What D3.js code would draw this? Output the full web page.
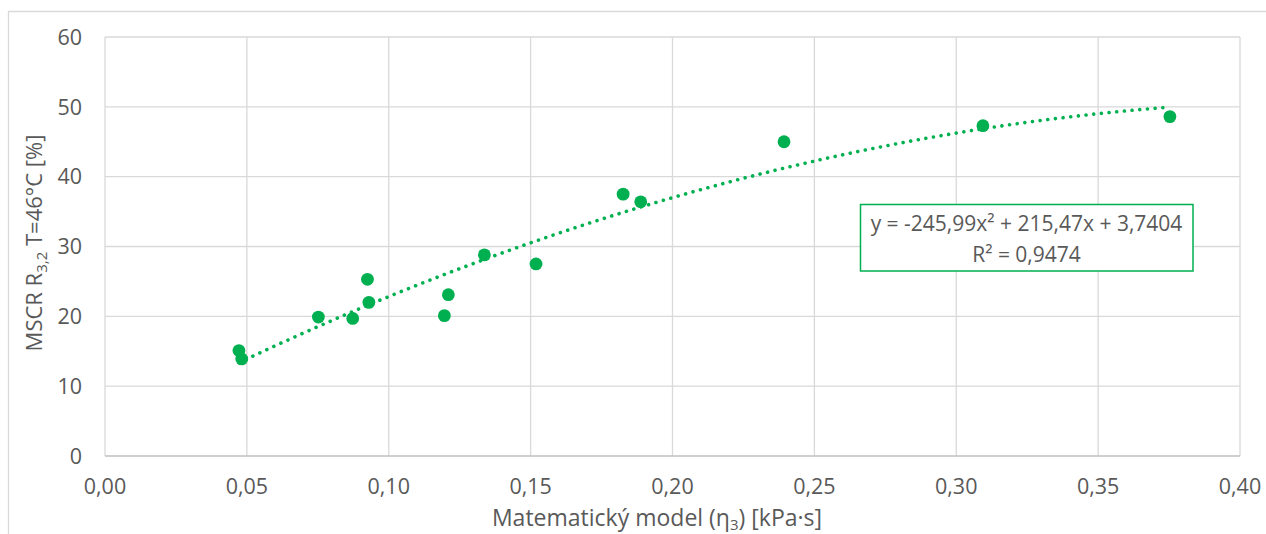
<!DOCTYPE html>
<html>
<head>
<meta charset="utf-8">
<script src="https://cdn.jsdelivr.net/npm/d3@7"></script>
<style>
  html, body { margin: 0; padding: 0; background: #fff; }
  svg { display: block; }
  text { font-family: "Open Sans", sans-serif; fill: #595959; }
</style>
</head>
<body>
<svg id="chart" width="1266" height="534"></svg>
<script>
// ---- data ----
const xValues = [0.0472, 0.0482, 0.0752, 0.0873, 0.0925, 0.0930, 0.1196, 0.1210, 0.1337, 0.1519, 0.1826, 0.1888, 0.2393, 0.3094, 0.3753];
const yValues = [15.1, 13.9, 19.9, 19.7, 25.3, 22.0, 20.1, 23.1, 28.8, 27.5, 37.5, 36.4, 45.0, 47.3, 48.6];
const xTicks = [0, 0.05, 0.10, 0.15, 0.20, 0.25, 0.30, 0.35, 0.40];
const yTicks = [0, 10, 20, 30, 40, 50, 60];
const trendCoef = [-245.99, 215.47, 3.7404]; // a, b, c of y = a x^2 + b x + c
const equationLines = ["y = -245,99x² + 215,47x + 3,7404", "R² = 0,9474"];

const green = "#00B050";
const svg = d3.select("#chart");

const margin = { left: 105, right: 1240, top: 37, bottom: 456 };
const x = d3.scaleLinear().domain([0, 0.4]).range([margin.left, margin.right]);
const y = d3.scaleLinear().domain([0, 60]).range([margin.bottom, margin.top]);
const fmt = v => d3.format(".2f")(v).replace(".", ",");

// outer chart border (left and top visible)
svg.append("path")
  .attr("d", `M8.5,534 L8.5,11.5 L1266,11.5`)
  .attr("fill", "none").attr("stroke", "#d9d9d9").attr("stroke-width", 1.3);

// gridlines
svg.append("g").selectAll("line").data(yTicks.filter(d => d !== 0)).join("line")
  .attr("x1", margin.left).attr("x2", margin.right)
  .attr("y1", d => y(d)).attr("y2", d => y(d))
  .attr("stroke", "#d9d9d9").attr("stroke-width", 1.3);
svg.append("g").selectAll("line").data(xTicks).join("line")
  .attr("x1", d => x(d)).attr("x2", d => x(d))
  .attr("y1", margin.top).attr("y2", margin.bottom)
  .attr("stroke", "#d9d9d9").attr("stroke-width", 1.3);

// x axis line
svg.append("line")
  .attr("x1", margin.left).attr("x2", margin.right)
  .attr("y1", y(0)).attr("y2", y(0))
  .attr("stroke", "#bfbfbf").attr("stroke-width", 1.3);

// x tick labels
svg.append("g").selectAll("text").data(xTicks).join("text")
  .attr("x", d => x(d)).attr("y", 494)
  .attr("text-anchor", "middle").attr("font-size", 21.5)
  .text(fmt);

// y tick labels
svg.append("g").selectAll("text").data(yTicks).join("text")
  .attr("x", 82).attr("y", d => y(d)).attr("dy", "0.36em")
  .attr("text-anchor", "end").attr("font-size", 21.5)
  .text(d => d);

// trendline
const xmin = d3.min(xValues), xmax = d3.max(xValues);
const trendPts = d3.range(0, 201).map(i => {
  const xv = xmin + (xmax - xmin) * i / 200;
  return [xv, trendCoef[0] * xv * xv + trendCoef[1] * xv + trendCoef[2]];
});

// points
svg.append("g").selectAll("circle").data(xValues.map((d, i) => [d, yValues[i]])).join("circle")
  .attr("cx", d => x(d[0])).attr("cy", d => y(d[1])).attr("r", 6.4)
  .attr("fill", green);

svg.append("path")
  .datum(trendPts)
  .attr("d", d3.line().x(d => x(d[0])).y(d => y(d[1])))
  .attr("fill", "none").attr("stroke", green)
  .attr("stroke-width", 3.6).attr("stroke-linecap", "round")
  .attr("stroke-dasharray", "0.01 7.7");

// equation box
svg.append("rect")
  .attr("x", 860.5).attr("y", 204.5).attr("width", 332.5).attr("height", 66.5)
  .attr("fill", "#fff").attr("stroke", green).attr("stroke-width", 1.5);
svg.append("text").attr("x", 1026.5).attr("y", 231).attr("text-anchor", "middle")
  .attr("font-size", 21).text(equationLines[0]);
svg.append("text").attr("x", 1026.5).attr("y", 261.5).attr("text-anchor", "middle")
  .attr("font-size", 21).text(equationLines[1]);

// x axis title
const xt = svg.append("text").attr("x", 657).attr("y", 526)
  .attr("text-anchor", "middle").attr("font-size", 23);
xt.append("tspan").text("Matematický model (η");
xt.append("tspan").attr("font-size", 15).attr("dy", 4).text("3");
xt.append("tspan").attr("dy", -4).text(") [kPa·s]");

// y axis title
const yt = svg.append("text")
  .attr("transform", "translate(42,243) rotate(-90)")
  .attr("text-anchor", "middle").attr("font-size", 22);
yt.append("tspan").text("MSCR R");
yt.append("tspan").attr("font-size", 15).attr("dy", 5).text("3,2");
yt.append("tspan").attr("dy", -5).text(" T=46°C [%]");
</script>
</body>
</html>
